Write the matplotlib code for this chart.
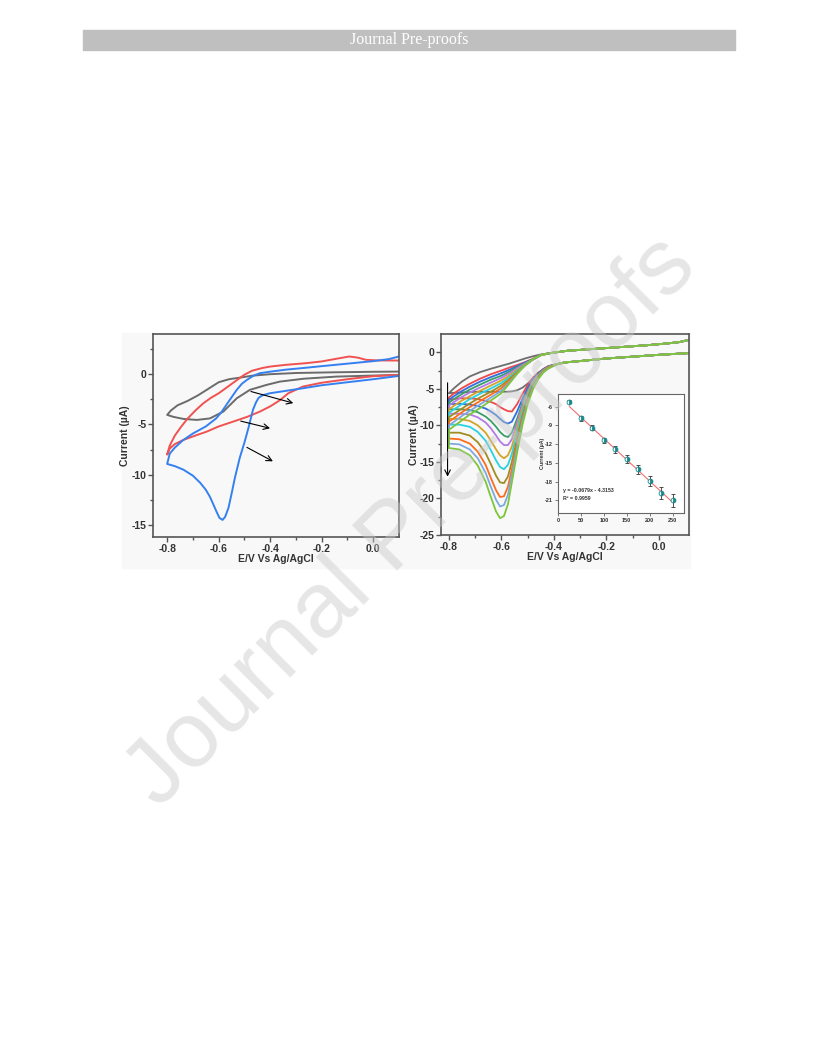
import numpy as np
import matplotlib
matplotlib.use("Agg")
from matplotlib import pyplot as plt
from matplotlib.patches import Rectangle

# ---- left panel: three CVs (lower branch 0.1 -> -0.8, then upper branch -0.8 -> 0.1)
gray_lo_x = [0.10, -0.02, -0.144, -0.27, -0.363, -0.415, -0.479, -0.53, -0.582, -0.634, -0.685, -0.737, -0.775, -0.80]
gray_lo_y = [-0.07, -0.15, -0.24, -0.45, -0.74, -1.07, -1.56, -2.4, -3.72, -4.4, -4.55, -4.45, -4.25, -4.05]
gray_up_x = [-0.80, -0.785, -0.76, -0.72, -0.68, -0.64, -0.60, -0.56, -0.52, -0.47, -0.40, -0.3, -0.15, 0.0, 0.10]
gray_up_y = [-4.05, -3.6, -3.1, -2.65, -2.1, -1.45, -0.8, -0.5, -0.35, -0.15, 0.0, 0.12, 0.19, 0.24, 0.26]

red_lo_x = [0.10, 0.0, -0.1, -0.2, -0.273, -0.33, -0.363, -0.40, -0.44, -0.49, -0.544, -0.6, -0.647,
            -0.69, -0.737, -0.77, -0.79, -0.80]
red_lo_y = [-0.07, -0.2, -0.5, -0.85, -1.23, -1.9, -2.6, -3.2, -3.72, -4.25, -4.72, -5.2, -5.72,
            -6.1, -6.54, -6.95, -7.4, -8.0]
red_up_x = [-0.80, -0.79, -0.77, -0.745, -0.72, -0.69, -0.66, -0.63, -0.60, -0.565, -0.53, -0.50,
            -0.47, -0.43, -0.40, -0.34, -0.26, -0.2, -0.14, -0.093, -0.06, -0.028, 0.02, 0.10]
red_up_y = [-8.0, -7.1, -6.1, -5.2, -4.4, -3.6, -2.9, -2.35, -1.9, -1.25, -0.6, -0.05,
            0.35, 0.62, 0.76, 0.93, 1.1, 1.27, 1.55, 1.76, 1.65, 1.43, 1.37, 1.36]

blue_lo_x = [0.10, 0.0, -0.1, -0.2, -0.273, -0.35, -0.402, -0.43, -0.445, -0.455, -0.467, -0.484,
             -0.50, -0.518, -0.537, -0.55, -0.562, -0.575, -0.585, -0.597, -0.608, -0.62, -0.634,
             -0.65, -0.672, -0.70, -0.737, -0.77, -0.80]
blue_lo_y = [-0.17, -0.5, -0.8, -1.1, -1.4, -1.7, -1.9, -2.1, -2.35, -2.8, -3.55, -5.3,
             -6.8, -8.3, -10.3, -11.9, -13.3, -14.2, -14.5, -14.3, -13.7, -13.0, -12.2,
             -11.5, -10.8, -10.1, -9.5, -9.15, -8.93]
blue_up_x = [-0.80, -0.79, -0.77, -0.74, -0.70, -0.65, -0.61, -0.59, -0.57, -0.55, -0.53, -0.51,
             -0.49, -0.465, -0.44, -0.40, -0.34, -0.27, -0.2, -0.1, 0.0, 0.06, 0.10]
blue_up_y = [-8.93, -7.9, -7.3, -6.6, -5.9, -5.2, -4.4, -3.8, -3.05, -2.3, -1.56, -0.95,
             -0.56, -0.15, 0.1, 0.25, 0.45, 0.62, 0.8, 1.05, 1.3, 1.5, 1.76]

# arrows in left panel: (start x, start y, end x, end y)
left_arrows = [(-0.485, -1.65, -0.30, -2.95),
               (-0.525, -4.6, -0.39, -5.45),
               (-0.50, -7.15, -0.38, -8.8)]

# ---- right panel: 11 CVs
low_tail_x = [0.12, 0.0, -0.1, -0.2, -0.3, -0.36, -0.39]
low_tail_y = [-0.1, -0.35, -0.6, -0.85, -1.2, -1.4, -1.65]
low_x = [-0.42, -0.44, -0.46, -0.48, -0.50, -0.52, -0.54, -0.56, -0.575, -0.59, -0.605, -0.62,
         -0.64, -0.66, -0.69, -0.72, -0.76, -0.80]
up_x = [-0.80, -0.78, -0.75, -0.72, -0.68, -0.64, -0.60, -0.57, -0.54, -0.51, -0.48, -0.45]
up_tail_x = [-0.42, -0.35, -0.25, -0.15, -0.05, 0.03, 0.08, 0.12]
up_tail_y = [-0.15, 0.2, 0.45, 0.7, 0.95, 1.2, 1.4, 1.75]

curve_colors = ["#6e6e6e", "#f0474a", "#2f6fe0", "#3a9e6b", "#b27be6", "#d3a428",
                "#27d3e3", "#9e8e22", "#fb6d1c", "#7ea9e0", "#7cc63a"]
low_y = [
    [-1.9, -2.3, -2.9, -3.6, -4.3, -4.85, -5.2, -5.35, -5.4, -5.4, -5.4, -5.4, -5.4, -5.4, -5.4, -5.45, -5.5, -5.6],
    [-1.9, -2.3, -2.8, -3.5, -4.5, -5.75, -7.1, -8.1, -8.05, -7.8, -7.5, -7.1, -6.8, -6.65, -6.4, -6.3, -6.3, -6.5],
    [-1.9, -2.35, -2.9, -3.7, -4.9, -6.4, -8.1, -9.5, -9.75, -9.55, -9.1, -8.6, -8.1, -7.7, -7.35, -7.15, -7.05, -7.1],
    [-2.0, -2.4, -3.0, -3.9, -5.2, -7.0, -9.1, -11.0, -11.6, -11.4, -10.9, -10.2, -9.4, -8.8, -8.2, -7.9, -7.8, -7.8],
    [-2.0, -2.45, -3.1, -4.0, -5.4, -7.3, -9.6, -11.9, -12.7, -12.7, -12.2, -11.4, -10.4, -9.6, -8.9, -8.5, -8.4, -8.4],
    [-2.0, -2.5, -3.2, -4.2, -5.7, -7.7, -10.3, -12.9, -14.1, -14.5, -14.1, -13.3, -12.1, -11.0, -10.0, -9.4, -9.1, -9.1],
    [-2.1, -2.55, -3.3, -4.4, -6.0, -8.2, -11.0, -13.9, -15.4, -16.0, -15.7, -14.8, -13.4, -12.1, -10.9, -10.2, -9.9, -9.9],
    [-2.1, -2.6, -3.4, -4.6, -6.3, -8.7, -11.8, -15.0, -17.0, -17.9, -17.8, -16.9, -15.3, -13.8, -12.3, -11.4, -11.0, -11.0],
    [-2.1, -2.65, -3.5, -4.8, -6.6, -9.2, -12.5, -16.0, -18.4, -19.7, -19.8, -18.9, -17.2, -15.4, -13.6, -12.5, -11.9, -11.8],
    [-2.2, -2.7, -3.6, -4.9, -6.8, -9.5, -13.0, -16.8, -19.5, -20.9, -21.1, -20.2, -18.4, -16.5, -14.5, -13.3, -12.6, -12.5],
    [-2.2, -2.75, -3.7, -5.1, -7.1, -10.0, -13.7, -17.8, -20.8, -22.4, -22.7, -21.8, -19.8, -17.7, -15.5, -14.1, -13.3, -13.1],
]
up_y = [
    [-5.6, -4.9, -4.0, -3.3, -2.7, -2.25, -1.85, -1.55, -1.2, -0.85, -0.55, -0.3],
    [-6.2, -5.6, -4.9, -4.3, -3.6, -3.0, -2.5, -2.1, -1.75, -1.35, -0.9, -0.4],
    [-6.5, -6.0, -5.3, -4.7, -4.0, -3.4, -2.85, -2.4, -1.9, -1.4, -0.95, -0.4],
    [-6.9, -6.4, -5.7, -5.1, -4.4, -3.75, -3.2, -2.65, -2.05, -1.5, -0.95, -0.4],
    [-7.3, -6.8, -6.1, -5.5, -4.8, -4.15, -3.5, -2.9, -2.2, -1.55, -1.0, -0.4],
    [-7.8, -7.3, -6.6, -6.0, -5.25, -4.55, -3.85, -3.2, -2.4, -1.65, -1.0, -0.4],
    [-8.3, -7.8, -7.1, -6.4, -5.65, -4.95, -4.2, -3.45, -2.55, -1.7, -1.0, -0.4],
    [-8.9, -8.4, -7.7, -7.0, -6.15, -5.4, -4.55, -3.7, -2.7, -1.75, -1.0, -0.4],
    [-9.5, -9.0, -8.2, -7.5, -6.65, -5.8, -4.9, -3.95, -2.8, -1.8, -1.0, -0.4],
    [-10.0, -9.5, -8.7, -8.0, -7.1, -6.2, -5.25, -4.15, -2.9, -1.8, -1.0, -0.4],
    [-10.6, -10.1, -9.3, -8.5, -7.6, -6.6, -5.6, -4.3, -2.95, -1.8, -0.95, -0.4],
]

# ---- inset: calibration
conc = [25, 50, 75, 100, 125, 150, 175, 200, 225, 250]
peak_current = [-5.2, -7.9, -9.4, -11.4, -12.8, -14.4, -16.0, -17.9, -19.8, -21.0]
peak_err = [0.3, 0.35, 0.4, 0.45, 0.55, 0.6, 0.7, 0.8, 0.9, 1.0]
fit_slope = -0.0679
fit_icpt = -4.3153

TXT = "#333333"
SPINE = "#555555"

plt.rcParams['font.family'] = ['Liberation Sans', 'DejaVu Sans']
plt.rcParams['axes.unicode_minus'] = False

fig = plt.figure(figsize=(8.16, 10.56), dpi=100)
W, H = 816.0, 1056.0


def fbox(x0, y0, x1, y1):
    return [x0 / W, 1 - y1 / H, (x1 - x0) / W, (y1 - y0) / H]


# header bar
fig.patches.append(Rectangle((83 / W, 1 - 50 / H), (735 - 83) / W, 20 / H,
                             transform=fig.transFigure, color="#bfbfbf", zorder=-10))
fig.text(409 / W, 1 - 40.5 / H, "Journal Pre-proofs", color="white", ha="center", va="center",
         fontsize=11.5, family="Liberation Serif")
# light background behind figure
fig.patches.append(Rectangle((122 / W, 1 - 568 / H), (690 - 122) / W, (568 - 333) / H,
                             transform=fig.transFigure, color="#f8f8f8", zorder=-10))


def style(ax, fs=7.5):
    for s in ax.spines.values():
        s.set_color(SPINE)
        s.set_linewidth(1.2)
    ax.set_facecolor("none")
    ax.tick_params(which="both", direction="out", colors=SPINE, labelcolor=TXT,
                   labelsize=fs, width=1.0, pad=1.2)
    ax.tick_params(which="major", length=3.5)
    ax.tick_params(which="minor", length=2.2)
    for lab in ax.get_xticklabels() + ax.get_yticklabels():
        lab.set_fontweight("bold")


# ---- left panel
ax1 = fig.add_axes(fbox(153, 334, 399, 537), zorder=1)
ax1.plot(gray_lo_x + gray_up_x, gray_lo_y + gray_up_y, color="#6b6b6b", lw=1.4)
ax1.plot(red_lo_x + red_up_x, red_lo_y + red_up_y, color="#f05252", lw=1.4)
ax1.plot(blue_lo_x + blue_up_x, blue_lo_y + blue_up_y, color="#3580f0", lw=1.4)
for x0, y0, x1, y1 in left_arrows:
    ax1.annotate("", xy=(x1, y1), xytext=(x0, y0),
                 arrowprops=dict(arrowstyle="->", color="black", lw=0.8))
ax1.set_xlim(-0.855, 0.1)
ax1.set_ylim(-16.2, 4)
ax1.set_xticks([-0.8, -0.6, -0.4, -0.2, 0.0])
ax1.set_xticklabels(["-0.8", "-0.6", "-0.4", "-0.2", "0.0"])
ax1.set_xticks([-0.7, -0.5, -0.3, -0.1], minor=True)
ax1.set_yticks([0, -5, -10, -15])
ax1.set_yticks([2.5, -2.5, -7.5, -12.5], minor=True)
ax1.set_xlabel("E/V Vs Ag/AgCl", fontsize=7.5, fontweight="bold", color=TXT, labelpad=0.5)
ax1.set_ylabel("Current (µA)", fontsize=7.5, fontweight="bold", color=TXT, labelpad=1)
style(ax1)

# ---- right panel
ax2 = fig.add_axes(fbox(441, 334, 689, 535), zorder=1)
for i, col in enumerate(curve_colors):
    xs = low_tail_x + low_x + up_x + up_tail_x
    ys = low_tail_y + low_y[i] + up_y[i] + up_tail_y
    ax2.plot(xs, ys, color=col, lw=1.3)
ax2.annotate("", xy=(-0.805, -17.4), xytext=(-0.805, -3.8),
             arrowprops=dict(arrowstyle="->", color="black", lw=0.8))
ax2.set_xlim(-0.83, 0.115)
ax2.set_ylim(-25, 2.5)
ax2.set_xticks([-0.8, -0.6, -0.4, -0.2, 0.0])
ax2.set_xticklabels(["-0.8", "-0.6", "-0.4", "-0.2", "0.0"])
ax2.set_xticks([-0.7, -0.5, -0.3, -0.1], minor=True)
ax2.set_yticks([0, -5, -10, -15, -20, -25])
ax2.set_yticks([-2.5, -7.5, -12.5, -17.5, -22.5], minor=True)
ax2.set_xlabel("E/V Vs Ag/AgCl", fontsize=7.5, fontweight="bold", color=TXT, labelpad=0.5)
ax2.set_ylabel("Current (µA)", fontsize=7.5, fontweight="bold", color=TXT, labelpad=0.5)
style(ax2)

# ---- inset
ax3 = fig.add_axes(fbox(558, 394, 684, 513), zorder=2)
ax3.set_facecolor("white")
fit_x = np.array([conc[0], conc[-1]])
ax3.plot(fit_x, fit_slope * fit_x + fit_icpt, color="#f07070", lw=0.8)
ax3.errorbar(conc, peak_current, yerr=peak_err, fmt="o", ms=3.5, color="#17878a",
             ecolor="#333333", elinewidth=0.6, capsize=1.2, capthick=0.6,
             fillstyle="right", markerfacecoloralt="white", mew=0.6)
ax3.set_xlim(0, 275)
ax3.set_ylim(-23, -4)
ax3.set_xticks([0, 50, 100, 150, 200, 250])
ax3.set_yticks([-6, -9, -12, -15, -18, -21])
ax3.text(12, -19.6, "y = -0.0679x - 4.3153", fontsize=3.8, fontweight="bold", color=TXT)
ax3.text(12, -20.9, "R² = 0.9959", fontsize=3.8, fontweight="bold", color=TXT)
ax3.set_ylabel("Current (µA)", fontsize=3.8, fontweight="bold", color=TXT, labelpad=0)
for s in ax3.spines.values():
    s.set_color("#666666")
    s.set_linewidth(0.8)
ax3.tick_params(direction="out", length=2, width=0.6, colors="#666666", labelcolor=TXT,
                labelsize=4, pad=1.5)
for lab in ax3.get_xticklabels() + ax3.get_yticklabels():
    lab.set_fontweight("bold")

# watermark
fig.text(412 / W, 1 - 522 / H, "Journal Pre-proofs", fontsize=67, color="#c8c8c8", alpha=0.45,
         rotation=45, ha="center", va="center", rotation_mode="anchor", zorder=50)

fig.savefig("out.png", dpi=100)
